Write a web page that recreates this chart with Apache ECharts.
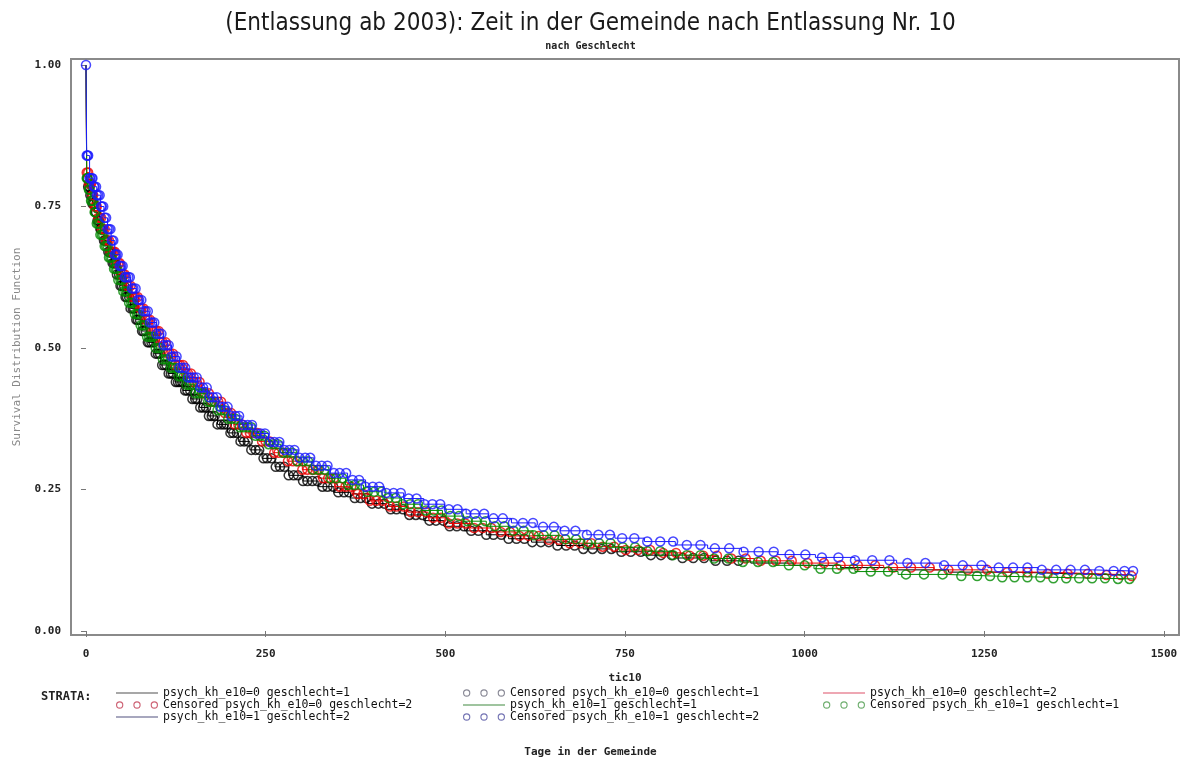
<!DOCTYPE html>
<html>
<head>
<meta charset="utf-8">
<script src="https://cdn.jsdelivr.net/npm/echarts@6/dist/echarts.min.js"></script>
<style>html,body{margin:0;padding:0;background:#fff}#c{width:1181px;height:780px}</style>
</head>
<body>
<div id="c"></div>
<script>
// ---- tick labels ----
const xTicks = [0, 250, 500, 750, 1000, 1250, 1500];
const yTicks = [0, 0.25, 0.5, 0.75, 1.0];

// ---- stratum names ----
const names = ['psych_kh_e10=0 geschlecht=1', 'psych_kh_e10=0 geschlecht=2', 'psych_kh_e10=1 geschlecht=1', 'psych_kh_e10=1 geschlecht=2'];

// ---- Kaplan-Meier steps: stratum 1 (e10=0, g=1) ----
const t1 = [0,1,3,6,9,12,16,20,25,30,36,42,48,55,62,70,78,86,95,104,114,124,135,146,158,170,183,197,212,228,245,263,282,302,323,345,368,392,417,443,470,498,527,557,588,620,655,692,732,775,820,870,925,985,1050,1120,1200,1290,1380,1440];
const s1 = [1.00,0.80,0.785,0.77,0.755,0.74,0.725,0.71,0.69,0.67,0.65,0.63,0.61,0.59,0.57,0.55,0.53,0.51,0.49,0.47,0.455,0.44,0.425,0.41,0.395,0.38,0.365,0.35,0.335,0.32,0.305,0.29,0.275,0.265,0.255,0.245,0.235,0.225,0.215,0.205,0.195,0.185,0.177,0.17,0.163,0.157,0.151,0.145,0.14,0.134,0.129,0.124,0.12,0.116,0.112,0.108,0.104,0.101,0.099,0.098];
const c1 = [2,3,5,6,8,9,11,13,14,16,18,20,21,23,25,27,29,31,33,35,37,39,41,43,46,48,50,53,55,57,60,62,65,67,70,72,75,78,80,83,86,88,91,94,97,100,103,106,109,112,115,118,121,125,128,131,134,138,141,145,148,152,155,159,163,167,171,175,179,183,188,192,196,201,205,210,215,220,225,230,236,241,247,252,258,264,270,276,282,289,295,302,308,315,322,329,336,344,351,359,366,374,382,390,398,407,415,424,432,441,450,459,468,478,487,497,506,516,526,536,546,557,567,578,588,599,610,621,633,644,656,668,680,692,705,718,731,745,758,772,786,800,815,830,845,860,876,892,908];

// ---- stratum 2 (e10=0, g=2) ----
const t2 = [0,1,4,8,12,17,22,28,34,41,48,56,64,73,82,92,102,113,124,136,148,161,175,190,206,223,241,260,280,301,323,346,370,395,421,448,476,505,535,566,598,632,668,706,746,788,833,880,930,985,1045,1110,1180,1255,1335,1410,1455];
const s2 = [1.00,0.81,0.79,0.77,0.75,0.73,0.71,0.69,0.67,0.65,0.63,0.61,0.59,0.57,0.55,0.53,0.51,0.49,0.47,0.455,0.44,0.42,0.405,0.385,0.365,0.35,0.335,0.315,0.30,0.285,0.27,0.255,0.242,0.23,0.22,0.21,0.20,0.19,0.182,0.175,0.168,0.161,0.155,0.149,0.143,0.138,0.133,0.128,0.124,0.12,0.116,0.112,0.108,0.104,0.101,0.099,0.097];
const c2 = [1,3,4,6,7,9,10,12,14,15,17,19,21,22,24,26,28,30,32,34,36,38,40,42,45,47,49,52,54,57,59,62,64,67,69,72,75,77,80,83,86,89,92,95,98,101,104,107,111,114,117,121,124,128,131,135,139,142,146,150,154,158,162,166,171,175,179,184,188,193,198,202,207,212,217,223,228,233,239,245,250,256,262,268,275,281,288,294,301,308,315,322,330,337,345,353,361,369,378,386,395,404,413,423,432,442,452,462,473,483,494,505,517,528,540,552,564,577,590,603,616,630,644,658,673,688,703,719,735,751,768,785,803,821,840,859,878,898,918,939,960,982,1004,1027,1050,1074,1098,1123,1148,1174,1200,1227,1254,1282,1310,1338,1366,1394,1420,1440,1455];

// ---- stratum 3 (e10=1, g=1) ----
const t3 = [0,1,3,7,11,15,20,25,31,37,44,51,59,67,76,85,95,105,116,127,139,152,166,181,197,214,232,251,271,292,314,337,361,386,412,439,467,496,526,557,589,622,657,694,733,774,817,862,910,960,1013,1070,1130,1195,1265,1340,1420,1458];
const s3 = [1.00,0.80,0.78,0.76,0.74,0.72,0.70,0.68,0.66,0.64,0.62,0.60,0.58,0.56,0.54,0.52,0.50,0.48,0.465,0.45,0.435,0.42,0.405,0.39,0.375,0.36,0.345,0.33,0.315,0.30,0.285,0.27,0.258,0.246,0.235,0.224,0.213,0.203,0.194,0.185,0.177,0.169,0.162,0.155,0.148,0.141,0.134,0.128,0.122,0.116,0.11,0.105,0.10,0.097,0.095,0.093,0.092,0.092];
const c3 = [1,2,4,5,7,8,10,12,13,15,17,19,20,22,24,26,28,30,32,34,36,39,41,43,45,48,50,52,55,57,60,63,65,68,71,73,76,79,82,85,88,91,94,97,101,104,107,111,114,118,121,125,129,132,136,140,144,148,152,157,161,165,170,174,179,183,188,193,198,203,208,214,219,225,230,236,242,248,254,261,267,274,280,287,294,302,309,316,324,332,340,348,357,365,374,383,392,401,411,421,431,441,451,462,473,484,495,507,519,531,543,556,569,582,595,609,623,637,652,667,682,698,714,730,747,764,781,799,817,836,855,874,894,914,935,956,978,1000,1022,1045,1068,1092,1116,1141,1166,1192,1218,1240,1258,1275,1292,1310,1328,1346,1364,1382,1400,1418,1436,1452];

// ---- stratum 4 (e10=1, g=2) ----
const t4 = [0,1,5,10,15,20,25,30,35,40,47,54,62,70,79,88,98,108,119,130,142,155,169,184,200,217,235,254,274,295,317,340,364,389,415,442,470,499,529,560,592,625,660,697,736,777,820,865,912,962,1015,1070,1128,1190,1255,1325,1400,1458];
const s4 = [1.00,0.84,0.80,0.785,0.77,0.75,0.73,0.71,0.69,0.665,0.645,0.625,0.605,0.585,0.565,0.545,0.525,0.505,0.485,0.465,0.448,0.43,0.413,0.396,0.38,0.364,0.349,0.334,0.32,0.306,0.292,0.279,0.267,0.255,0.244,0.234,0.224,0.215,0.207,0.199,0.191,0.184,0.177,0.17,0.164,0.158,0.152,0.146,0.14,0.135,0.13,0.125,0.12,0.116,0.112,0.108,0.106,0.105];
const c4 = [0,1,2,3,5,6,8,9,11,12,14,15,17,19,21,22,24,26,28,30,32,34,36,38,40,42,44,47,49,51,54,56,59,61,64,66,69,72,74,77,80,83,86,89,92,95,98,102,105,108,112,115,119,122,126,130,134,138,142,146,150,154,159,163,168,172,177,182,187,192,197,202,208,213,219,225,231,237,243,249,256,262,269,276,283,290,297,305,312,320,328,336,345,353,362,371,380,389,399,408,418,428,438,449,460,471,482,493,505,517,529,541,554,567,580,594,608,622,636,651,666,681,697,713,729,746,763,781,799,817,836,855,875,895,915,936,957,979,1001,1024,1047,1070,1094,1118,1143,1168,1194,1220,1246,1270,1290,1310,1330,1350,1370,1390,1410,1430,1445,1457];

// ---- styling ----
const colors = ['#000000', '#ee0000', '#008a00', '#1a1aff'];
const legendLineColors = ['#8a8a8a', '#e88a9a', '#7fb07f', '#8a8aa8'];
const legendRingColors = ['#6a6a7a', '#c03a50', '#4a9a4a', '#5050a0'];

function pairs(t, s) { return t.map((v, i) => [v, s[i]]); }
function survAt(t, s, x) { let k = 0; for (let i = 0; i < t.length; i++) { if (t[i] <= x) k = i; } return s[k]; }
function cens(t, s, c) { return c.map(x => [x, survAt(t, s, x)]); }

const T = [t1, t2, t3, t4], S = [s1, s2, s3, s4], C = [c1, c2, c3, c4];

const series = [];
for (let k = 0; k < 4; k++) {
  series.push({
    name: names[k], type: 'line', step: 'end', data: pairs(T[k], S[k]),
    showSymbol: false, symbol: 'none', lineStyle: { color: colors[k], width: 1 },
    itemStyle: { color: colors[k] }, animation: false, silent: true, z: 2 + k
  });
  series.push({
    name: 'Censored ' + names[k], type: 'scatter', data: cens(T[k], S[k], C[k]),
    symbol: 'circle', symbolSize: 9,
    itemStyle: { color: 'rgba(255,255,255,0)', borderColor: colors[k], borderWidth: 1.5 },
    animation: false, silent: true, z: 2 + k
  });
}

function ring(cx) {
  const R = 3.6, r = 2.5;
  return 'M' + (cx - R) + ',4A' + R + ',' + R + ',0,1,0,' + (cx + R) + ',4A' + R + ',' + R + ',0,1,0,' + (cx - R) + ',4Z' +
         'M' + (cx - r) + ',4A' + r + ',' + r + ',0,1,1,' + (cx + r) + ',4A' + r + ',' + r + ',0,1,1,' + (cx - r) + ',4Z';
}
const ringIcon = 'path://' + ring(4) + ring(21) + ring(38);
const lineIcon = 'path://M0,0H42V1.4H0Z';

function lineItem(k) { return { name: names[k], icon: lineIcon, itemStyle: { color: legendLineColors[k], borderWidth: 0 } }; }
function censItem(k) { return { name: 'Censored ' + names[k], icon: ringIcon, itemStyle: { color: legendRingColors[k], borderWidth: 0 } }; }

const monoTxt = { fontFamily: 'DejaVu Sans Mono', fontSize: 11.5, color: '#111', lineHeight: 11 };
function legendCol(left, items) {
  return {
    orient: 'vertical', left: left, top: 687, itemWidth: 42, itemHeight: 8, itemGap: 0,
    selectedMode: false, textStyle: monoTxt, data: items, padding: 0
  };
}

const chart = echarts.init(document.getElementById('c'), null, { renderer: 'canvas' });
chart.setOption({
  backgroundColor: '#fff',
  animation: false,
  title: [
    { text: '(Entlassung ab 2003): Zeit in der Gemeinde nach Entlassung Nr. 10', left: 'center', top: 7,
      textStyle: { fontFamily: 'Liberation Sans Narrow, DejaVu Sans Condensed, Arial', fontSize: 24, fontWeight: 'normal', color: '#1a1a1a' } },
    { text: 'nach Geschlecht', left: 'center', top: 36,
      textStyle: { fontFamily: 'DejaVu Sans Mono', fontSize: 10, fontWeight: 'bold', color: '#222' } },
    { text: 'Tage in der Gemeinde', left: 'center', top: 742,
      textStyle: { fontFamily: 'DejaVu Sans Mono', fontSize: 11, fontWeight: 'bold', color: '#222' } },
    { text: 'STRATA:', left: 36, top: 686,
      textStyle: { fontFamily: 'DejaVu Sans Mono', fontSize: 12, fontWeight: 'bold', color: '#222' } }
  ],
  legend: [
    legendCol(116, [lineItem(0), censItem(1), lineItem(3)]),
    legendCol(463, [censItem(0), lineItem(2), censItem(3)]),
    legendCol(823, [lineItem(1), censItem(2)])
  ],
  grid: { left: 71, top: 59, width: 1108, height: 576, show: true, borderColor: '#8a8a8a', borderWidth: 2, backgroundColor: 'transparent' },
  xAxis: {
    type: 'value', min: -20.87, max: 1520.9,
    name: 'tic10', nameLocation: 'middle', nameGap: 38,
    nameTextStyle: { fontFamily: 'DejaVu Sans Mono', fontSize: 11, fontWeight: 'bold', color: '#222' },
    axisLine: { show: false },
    axisTick: { show: true, inside: false, length: 6, customValues: xTicks, lineStyle: { color: '#777', width: 1 } },
    axisLabel: { customValues: xTicks, margin: 14, formatter: v => String(v), fontFamily: 'DejaVu Sans Mono', fontSize: 11, fontWeight: 'bold', color: '#222' },
    splitLine: { show: false }
  },
  yAxis: {
    type: 'value', min: -0.00707, max: 1.0106,
    name: 'Survival Distribution Function', nameLocation: 'middle', nameGap: 48,
    nameTextStyle: { fontFamily: 'DejaVu Sans Mono', fontSize: 11, color: '#888' },
    axisLine: { show: false },
    axisTick: { show: true, inside: false, length: 5, customValues: yTicks, lineStyle: { color: '#777', width: 1 } },
    axisLabel: { customValues: yTicks, margin: 10, formatter: v => v.toFixed(2), fontFamily: 'DejaVu Sans Mono', fontSize: 11, fontWeight: 'bold', color: '#222' },
    splitLine: { show: false }
  },
  series: series
});
</script>
</body>
</html>
